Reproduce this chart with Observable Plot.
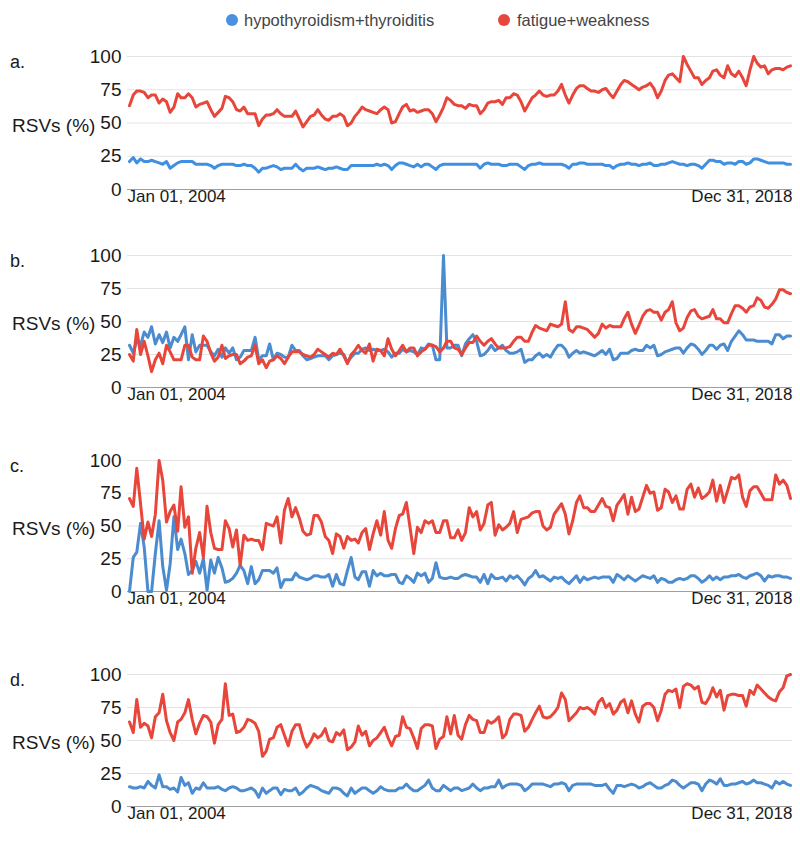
<!DOCTYPE html>
<html><head><meta charset="utf-8">
<script src="https://cdn.jsdelivr.net/npm/d3@7"></script>
<script src="https://cdn.jsdelivr.net/npm/@observablehq/plot@0.6"></script>
<style>
body{margin:0;background:#fff;font-family:"Liberation Sans",Arial,sans-serif;color:#222;}
#root{position:relative;width:800px;height:856px;overflow:hidden;}
.abs{position:absolute;white-space:nowrap;}
.dot{position:absolute;width:12px;height:12px;border-radius:50%;}
.leg{font-size:16.5px;color:#444;line-height:18px;}
.plabel{font-size:18px;line-height:20px;color:#1a1a1a;}
.ylab{font-size:19px;line-height:20px;color:#1a1a1a;}
</style></head><body><div id="root"></div>
<script>
const seriesNames = ["hypothyroidism+thyroiditis", "fatigue+weakness"];
const panelLabels = ["a.", "b.", "c.", "d."];
const yLabel = "RSVs (%)";
const dateLabels = ["Jan 01, 2004", "Dec 31, 2018"];
const yTicks = [0, 25, 50, 75, 100];

const aBlue = [21,24,20,23,21,21,22,21,20,19, 21,16,18,20,21,21,21,21,19,19, 19,19,18,16,18,19,19,19,19,18, 18,19,18,18,16,13,16,16,17,18, 17,15,16,16,16,19,16,14,16,16, 16,17,16,15,16,16,17,16,15,
15,18,18,18,18,18,18,18,19,18,19,18,15,18,20,20,19,18,17,19,17,19,19,17,15,18,19,19,19,19,19,19,19,19,19,19,16,19,20,19,19,19,18,18,19,19,19,17,15,18,19,19,20,19,19,19,19,19,19,18,16,
19,19,20,20,19,19,19,19,19,18, 18,16,18,19,19,20,19,19,18,19, 19,20,18,18,19,19,20,21,20,19, 19,18,19,19,18,16,19,22,22,21, 21,19,20,20,19,21,21,19,20,23, 23,22,21,20,20,20,20,20,19,19];
const aRed = [63,71,74,74,73,69,71,71,65,68, 66,58,62,72,69,69,72,69,62,64, 65,66,60,55,58,61,70,69,66,60, 59,62,57,57,57,48,53,56,56,57, 60,57,55,55,55,59,53,47,51,55, 56,60,56,53,52,55,55,57,55,
48,50,55,58,62,60,59,58,57,60,62,60,50,51,57,62,64,59,60,58,59,60,60,57,51,56,62,69,67,64,63,63,61,64,63,63,57,60,65,66,66,67,64,69,69,72,71,66,59,64,69,71,74,71,70,71,71,74,79,71,65,
71,76,78,78,76,74,74,73,75,76, 72,69,74,79,82,81,79,77,75,77, 78,80,76,69,74,82,86,87,84,81, 100,94,89,84,84,79,82,84,89,90, 86,84,93,87,85,89,84,78,90,100, 95,92,93,87,90,91,91,90,92,93];

const bBlue = [32,26,36,32,42,38,46,33,40,34, 42,30,38,35,40,46,21,40,27,32, 32,32,27,24,29,23,30,26,30,21, 23,28,28,28,38,21,24,24,33,21, 26,25,23,23,32,28,28,24,21,22, 23,24,24,24,21,24,25,26,25,
19,23,26,26,29,30,28,29,28,28,29,27,23,26,26,29,27,28,27,25,30,29,33,32,21,21,100,30,30,32,32,24,33,37,40,35,24,25,28,32,28,30,32,28,26,26,27,29,19,21,21,24,26,23,25,23,28,32,32,29,23,
26,28,26,27,26,25,24,26,28,25, 29,21,22,26,26,26,28,29,28,28, 32,30,32,24,25,27,28,29,30,30, 26,30,33,32,29,25,28,32,32,29, 32,33,28,35,39,43,40,36,36,36, 35,35,35,35,33,40,40,37,39,39];
const bRed = [25,20,44,25,35,24,12,21,26,18, 32,27,21,21,21,32,32,23,21,21, 39,35,26,20,23,32,22,24,25,25, 18,20,23,24,32,18,21,15,20,21, 24,22,18,23,27,27,27,25,24,23, 25,29,27,25,23,26,25,29,24,
18,25,28,32,28,26,33,20,29,28,24,37,29,24,28,32,27,30,30,24,27,29,32,32,31,27,30,35,35,30,29,25,30,34,34,39,35,32,35,37,33,30,30,30,31,35,38,38,35,35,42,47,45,44,43,48,47,46,48,65,44,
42,46,46,45,44,41,38,41,48,45, 47,46,46,46,52,57,48,41,47,54, 58,59,57,57,51,57,59,65,49,43, 45,53,58,59,54,52,53,54,59,52, 52,49,49,56,62,62,60,57,61,62, 68,66,61,60,63,67,74,74,72,71];

const cBlue = [0,26,30,52,34,0,0,29,54,19, 1,21,57,32,40,29,13,16,23,14, 25,1,24,14,26,18,7,8,10,14, 20,16,6,19,6,9,16,16,16,14, 18,3,9,9,9,14,11,10,9,10, 12,12,11,11,13,4,13,6,5,
16,26,11,9,15,15,4,16,12,14,12,12,13,13,7,6,12,10,7,14,12,14,7,10,22,11,10,10,11,10,10,12,13,12,11,11,7,13,6,13,10,10,11,8,12,10,12,9,5,10,12,16,11,12,10,8,11,10,11,8,6,
9,12,7,11,9,10,11,10,11,11, 11,7,13,11,9,12,10,8,10,12, 11,10,12,7,10,9,7,7,9,10, 9,10,12,12,10,7,9,12,9,11, 9,11,11,12,12,13,11,10,12,13, 14,12,8,12,11,12,12,11,11,10];
const cRed = [71,65,94,67,40,53,42,59,100,85, 53,61,66,46,80,49,57,14,33,45, 26,65,45,33,32,32,54,48,34,47, 20,43,39,40,39,39,32,52,51,50, 57,37,62,71,57,64,56,46,43,44, 58,58,53,42,39,29,44,42,33,
42,39,40,37,45,48,32,44,54,43,61,39,33,48,58,59,68,49,29,49,45,54,52,54,45,45,54,54,41,41,47,39,45,64,57,61,47,52,66,68,43,51,47,49,52,61,45,55,56,57,60,61,61,50,47,49,59,63,67,59,44,
54,68,73,64,64,61,61,66,71,65, 64,54,66,70,74,59,72,61,63,72, 81,75,76,62,64,78,76,68,73,63, 63,78,82,72,79,71,73,76,85,69, 81,68,77,87,86,89,72,65,77,80, 80,75,70,70,70,89,82,85,81,71];

const dBlue = [15,14,14,15,14,19,16,14,24,15, 15,13,14,11,22,16,18,10,14,13, 18,14,14,14,15,13,12,14,15,14, 12,12,13,14,12,7,14,10,12,14, 14,9,13,12,12,14,9,11,14,16, 15,14,12,11,10,14,14,13,10,
8,14,10,12,14,14,12,10,12,15,13,12,12,12,14,14,17,14,12,12,14,16,20,14,12,12,16,14,12,14,14,12,13,14,17,14,12,14,14,15,15,20,14,16,17,17,17,16,12,14,17,17,17,17,16,15,17,17,18,17,12,
16,17,17,17,17,17,16,16,16,17, 13,10,16,16,15,16,17,16,14,15, 17,18,16,14,14,16,17,20,19,16, 14,16,18,18,17,12,17,20,19,17, 21,16,16,17,17,18,19,17,18,20, 18,18,17,16,14,19,17,19,17,16];
const dRed = [64,56,81,60,63,61,52,68,71,85, 65,56,50,64,66,71,81,66,55,63, 69,68,64,48,62,66,93,69,70,56, 57,60,66,65,63,57,38,42,51,52, 60,62,54,46,57,62,62,52,45,49, 55,52,54,59,50,49,56,54,58,
43,45,49,61,54,57,46,50,52,56,60,52,46,53,54,68,60,59,52,44,59,62,62,61,44,51,53,68,55,69,54,51,62,69,66,65,56,56,65,63,65,68,52,55,66,70,70,69,57,60,66,71,76,68,67,68,71,75,86,81,65,
68,71,75,74,75,73,70,79,82,75, 78,70,73,79,81,71,80,70,64,76, 78,78,75,65,73,85,88,87,89,75, 91,93,92,89,91,79,78,83,90,83, 88,73,84,85,85,84,84,76,88,85, 92,89,86,83,81,80,87,90,99,100];

const legendColors = ["#4a90e2", "#e8463b"];
const panelBlues = ["#3f8fe2", "#4a8ccf", "#4a8ccf", "#4a8ccf"];
const red = "#e8463b";
const months = d3.timeMonth.range(new Date(2004, 0, 1), new Date(2019, 0, 1));

const panels = [
  {blue: aBlue, red: aRed, top: 40, y100: 56, y0: 189},
  {blue: bBlue, red: bRed, top: 240, y100: 255, y0: 387},
  {blue: cBlue, red: cRed, top: 445, y100: 460, y0: 591},
  {blue: dBlue, red: dRed, top: 655, y100: 674, y0: 806}
];

const root = document.getElementById("root");
function addDiv(cls, text, css) {
  const el = document.createElement("div");
  el.className = cls;
  if (text != null) el.textContent = text;
  Object.assign(el.style, css);
  root.appendChild(el);
  return el;
}

// legend
addDiv("dot", null, {left: "226px", top: "14px", background: legendColors[0]});
addDiv("abs leg", seriesNames[0], {left: "244px", top: "11px"});
addDiv("dot", null, {left: "498px", top: "14px", background: legendColors[1]});
addDiv("abs leg", seriesNames[1], {left: "517px", top: "11px"});

panels.forEach((p, k) => {
  const rows = [];
  months.forEach((d, i) => {
    rows.push({date: d, value: p.blue[i], series: seriesNames[0]});
  });
  months.forEach((d, i) => {
    rows.push({date: d, value: p.red[i], series: seriesNames[1]});
  });
  const height = p.y0 + 26 - p.top;
  const chart = Plot.plot({
    width: 800,
    height,
    marginLeft: 127,
    marginRight: 8,
    marginTop: p.y100 - p.top,
    marginBottom: 26,
    style: {fontFamily: '"Liberation Sans", Arial, sans-serif', fontSize: "17px", color: "#1a1a1a", background: "transparent", overflow: "visible"},
    x: {type: "time", domain: [months[0], months[months.length - 1]], insetLeft: 2, insetRight: 2, axis: null},
    y: {domain: [0, 100], axis: null},
    color: {domain: seriesNames, range: [panelBlues[k], red]},
    marks: [
      Plot.gridY([25, 50, 75, 100], {stroke: "#e3e3e3", strokeOpacity: 1}),
      Plot.ruleY([0], {stroke: "#9e9e9e"}),
      Plot.axisY(yTicks, {tickSize: 0, tickPadding: 6, label: null, fontSize: 19}),
      Plot.line(rows, {x: "date", y: "value", z: "series", stroke: "series", strokeWidth: 3, strokeLinejoin: "round", strokeLinecap: "round"}),
      Plot.text([dateLabels[0]], {text: d => d, frameAnchor: "bottom-left", textAnchor: "start", dy: 12, fontSize: 17}),
      Plot.text([dateLabels[1]], {text: d => d, frameAnchor: "bottom-right", textAnchor: "end", dy: 12, fontSize: 17})
    ]
  });
  const holder = addDiv("abs", null, {left: "0px", top: p.top + "px"});
  holder.appendChild(chart);
  addDiv("abs plabel", panelLabels[k], {left: "10px", top: (p.y100 - 4) + "px"});
  addDiv("abs ylab", yLabel, {left: "12px", top: ((p.y100 + p.y0) / 2 - 7) + "px"});
});
</script>
</body></html>
